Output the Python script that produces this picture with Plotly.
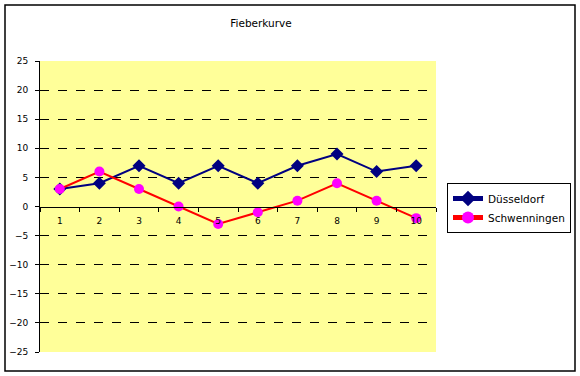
import plotly.graph_objects as go

categories = [1, 2, 3, 4, 5, 6, 7, 8, 9, 10]
duesseldorf = [3, 4, 7, 4, 7, 4, 7, 9, 6, 7]
schwenningen = [3, 6, 3, 0, -3, -1, 1, 4, 1, -2]
y_ticks = [25, 20, 15, 10, 5, 0, -5, -10, -15, -20, -25]
grid_vals = [20, 15, 10, 5, -5, -10, -15, -20]
boundaries = [c - 0.5 for c in categories] + [categories[-1] + 0.5]

FONT = "DejaVu Sans"

fig = go.Figure()
fig.add_trace(go.Scatter(
    x=categories, y=duesseldorf, name="Düsseldorf", mode="lines+markers",
    line=dict(color="#000080", width=2),
    marker=dict(symbol="diamond", size=10, color="#000080"),
))
fig.add_trace(go.Scatter(
    x=categories, y=schwenningen, name="Schwenningen", mode="lines+markers",
    line=dict(color="#FF0000", width=2),
    marker=dict(symbol="circle", size=10, color="#FF00FF"),
))

L, R, T, B = 40, 144, 61, 24
W, H = 580, 376
pw, ph = W - L - R, H - T - B

fig.update_layout(
    width=W, height=H,
    margin=dict(l=L, r=R, t=T, b=B, autoexpand=False),
    paper_bgcolor="white",
    plot_bgcolor="#FFFF99",
    font=dict(family=FONT, size=9, color="black"),
    title=dict(text="Fieberkurve", x=261 / W, xanchor="center", y=1 - 23 / H, yanchor="middle",
               font=dict(family=FONT, size=10.5, color="black")),
    showlegend=True,
    legend=dict(
        x=(447 - L) / pw, y=(H - B - 183) / ph, xanchor="left", yanchor="top",
        bordercolor="black", borderwidth=1, bgcolor="white",
        font=dict(family=FONT, size=10.5, color="black"),
        tracegroupgap=0, itemsizing="constant",
    ),
    xaxis=dict(
        range=[0.5, 10.5], tickvals=categories, ticktext=[str(c) for c in categories],
        ticks="", showgrid=False, zeroline=False,
        showline=True, linecolor="black", linewidth=1,
        anchor="free", position=0.5, side="bottom", ticklabelstandoff=6,
        minor=dict(tickvals=boundaries, ticks="outside", ticklen=4, tickcolor="black", showgrid=False),
        tickfont=dict(family=FONT, size=9, color="black"),
        fixedrange=True,
    ),
    yaxis=dict(
        range=[-25, 25], tickvals=y_ticks, ticks="outside", ticklen=4, tickcolor="black",
        showline=True, linecolor="black", linewidth=1, showgrid=False, zeroline=False,
        ticklabelstandoff=5,
        minor=dict(tickvals=grid_vals, ticks="", showgrid=True, gridcolor="black",
                   griddash="dash", gridwidth=1),
        tickfont=dict(family=FONT, size=9, color="black"),
        fixedrange=True,
    ),
    shapes=[dict(
        type="rect", xref="paper", yref="paper", layer="above",
        x0=(5 - L) / pw, x1=(575 - L) / pw, y0=(H - B - 371) / ph, y1=(H - B - 5) / ph,
        line=dict(color="black", width=1.5), fillcolor="rgba(0,0,0,0)",
    )],
)

fig.write_html("out.html", post_script="document.body.style.margin='0';",
               config={"displayModeBar": False})
